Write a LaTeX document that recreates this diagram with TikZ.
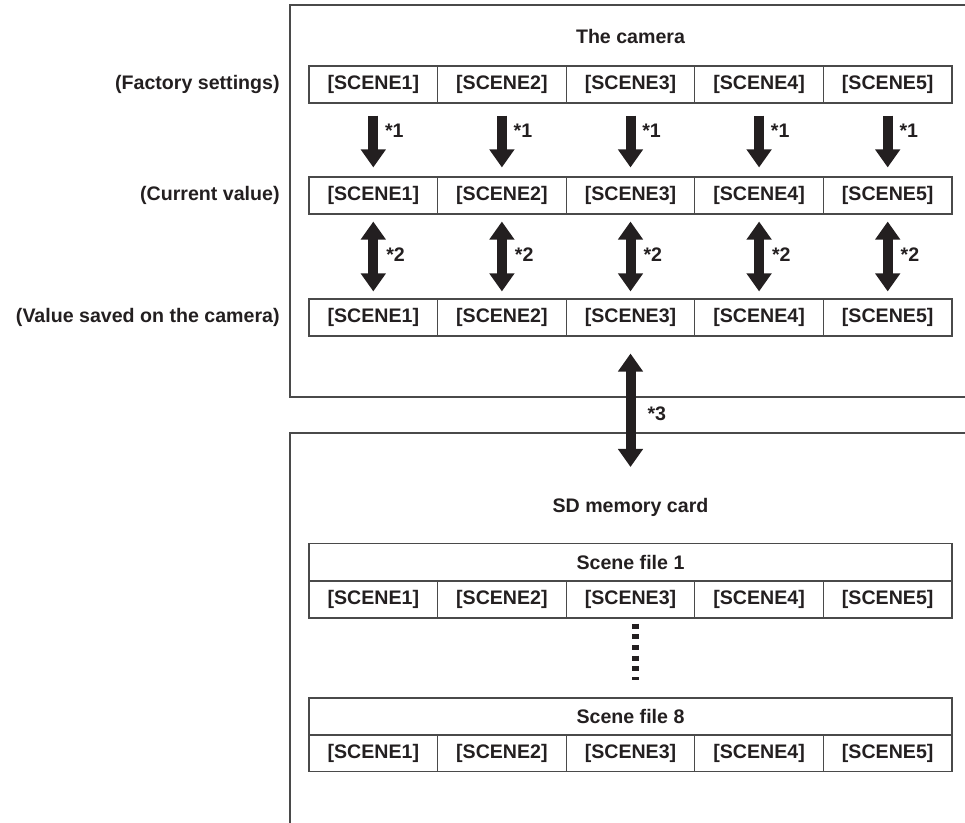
\documentclass[tikz,border=0pt]{standalone}
\usepackage{fontspec}
\setmainfont{Liberation Sans}
\usetikzlibrary{arrows.meta}
\definecolor{inchiostro}{HTML}{231F20}
\definecolor{linea}{HTML}{4A4A4A}
\newcommand{\testo}{\fontsize{9.8}{11}\bfseries\selectfont}

\begin{document}
\begin{tikzpicture}[x=0.5pt,y=-0.5pt,
		cornice/.style={draw=linea, line width=1pt},
		cella/.style={draw=linea, line width=0.55pt, minimum width=64.3pt, minimum height=18.5pt,
			inner sep=0pt, text=inchiostro, font=\testo},
		titolo/.style={draw=linea, line width=0.55pt, minimum width=321.5pt, minimum height=18.5pt,
			inner sep=0pt, text=inchiostro, font=\testo},
		etichetta/.style={inner sep=0pt, text=inchiostro, font=\testo},
		freccia/.style={draw=inchiostro, line width=5pt},
		nota/.style={inner sep=0pt, text=inchiostro, font=\testo, anchor=west},
		]
		% ── Parametri ──
		\def\xA{309}\def\wc{128.6}
		\def\yFab{84.5}\def\yCor{195.5}\def\ySal{317.5}
		\def\ySDa{562}\def\ySDb{599.5}\def\ySDc{716.5}\def\ySDd{753}
		\def\punta{Triangle[length=9pt,width=12pt]}
		\useasboundingbox (0,0) rectangle (965,823);
		
		% ===================== cornici =====================
		\draw[cornice] (968,5) -- (290,5) -- (290,397) -- (968,397);
		\draw[cornice] (968,433) -- (290,433) -- (290,826);
		
		% ===================== la fotocamera =====================
		\node[etichetta] (camera) at (630.5,36) {The camera};
		\node[etichetta, anchor=east] (lfab) at (280,\yFab) {(Factory settings)};
		\node[etichetta, anchor=east] (lcor) at (280,\yCor) {(Current value)};
		\node[etichetta, anchor=east] (lsal) at (280,\ySal) {(Value saved on the camera)};
		\foreach \i in {1,...,5}{
			\pgfmathsetmacro{\xc}{\xA+(\i-0.5)*\wc}
			\node[cella] (fab\i) at (\xc,\yFab) {[SCENE\i]};
			\node[cella] (cor\i) at (\xc,\yCor) {[SCENE\i]};
			\node[cella] (sal\i) at (\xc,\ySal) {[SCENE\i]};
			\draw[freccia, -{\punta}, shorten <=6pt, shorten >=4.5pt] (fab\i.south) -- (cor\i.north)
				node[nota, pos=0.38, xshift=3.4pt] {*1};
			\draw[freccia, {\punta}-{\punta}, shorten <=3.5pt, shorten >=3.5pt] (cor\i.south) -- (sal\i.north)
				node[nota, pos=0.48, xshift=4pt] {*2};
		}
		
		% ===================== scheda SD =====================
		\node[etichetta] (scheda) at (630.5,507) {SD memory card};
		\coordinate (arrivo) at (630.5,467);
		\draw[freccia, {\punta}-{\punta}, shorten <=8.5pt] (sal3.south) -- (arrivo)
			node[nota, pos=0.59, xshift=6pt] {*3};
		\node[titolo] (file1) at (630.5,\ySDa) {Scene file 1};
		\node[titolo] (file8) at (630.5,\ySDc) {Scene file 8};
		\foreach \i in {1,...,5}{
			\pgfmathsetmacro{\xc}{\xA+(\i-0.5)*\wc}
			\node[cella] (sda\i) at (\xc,\ySDb) {[SCENE\i]};
			\node[cella] (sdb\i) at (\xc,\ySDd) {[SCENE\i]};
		}
		% puntini tra i due file
		\draw[draw=inchiostro, line width=3.5pt, dash pattern=on 2.5pt off 2.85pt, shorten <=2.5pt, shorten >=8.5pt]
			([xshift=2.3pt]sda3.south) -- ([xshift=2.3pt]file8.north -| sda3.south);
	\end{tikzpicture}
\end{document}
